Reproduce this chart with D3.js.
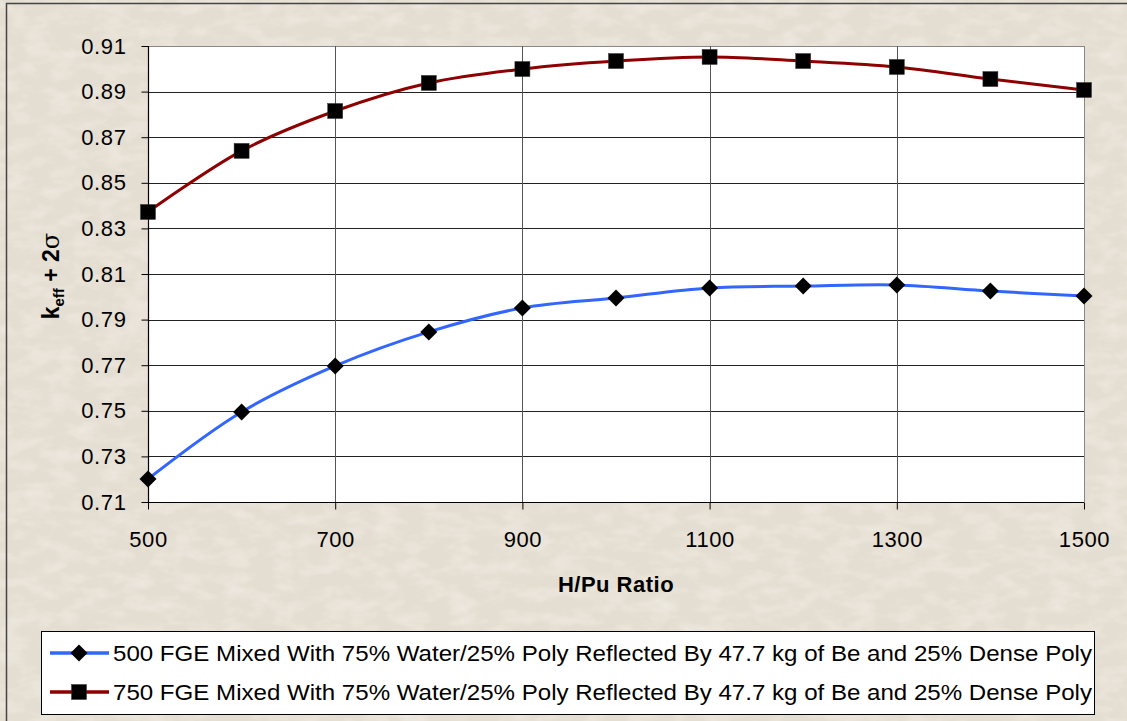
<!DOCTYPE html>
<html><head><meta charset="utf-8">
<script src="https://cdn.jsdelivr.net/npm/d3@7"></script>
<style>body{margin:0;background:#e4ddd1;}svg{display:block;}</style>
</head><body>
<svg id="chart" width="1127" height="721"></svg>
<script>
const hpu = [500, 600, 700, 800, 900, 1000, 1100, 1200, 1300, 1400, 1500];
const k500 = [0.7201, 0.7495, 0.7697, 0.7846, 0.7951, 0.7995, 0.8039, 0.8047, 0.8052, 0.8025, 0.8004];
const k750 = [0.8372, 0.8640, 0.8815, 0.8938, 0.8999, 0.9034, 0.9052, 0.9034, 0.9008, 0.8955, 0.8907];
const xTicks = [500, 700, 900, 1100, 1300, 1500];
const yTicks = [0.71, 0.73, 0.75, 0.77, 0.79, 0.81, 0.83, 0.85, 0.87, 0.89, 0.91];
const seriesNames = [
  "500 FGE Mixed With 75% Water/25% Poly Reflected By 47.7 kg of Be and 25% Dense Poly",
  "750 FGE Mixed With 75% Water/25% Poly Reflected By 47.7 kg of Be and 25% Dense Poly"
];
const series = [
  {name: seriesNames[0], values: k500, color: "#3366ff", marker: "diamond"},
  {name: seriesNames[1], values: k750, color: "#8e0000", marker: "square"}
];

const svg = d3.select("#chart");
const font = "Liberation Sans, Arial, sans-serif";

// background texture
const defs = svg.append("defs");
const f = defs.append("filter").attr("id","paper").attr("x",0).attr("y",0).attr("width","100%").attr("height","100%");
f.append("feTurbulence").attr("type","fractalNoise").attr("baseFrequency","0.04 0.08").attr("numOctaves",3).attr("seed",7).attr("result","n");
f.append("feColorMatrix").attr("in","n").attr("type","matrix")
  .attr("values","0 0 0 0 0.94  0 0 0 0 0.92  0 0 0 0 0.88  0 0 0 -0.9 0.55").attr("result","c");
svg.append("rect").attr("width",1127).attr("height",721).attr("fill","#e4ddd1");
svg.append("rect").attr("width",1127).attr("height",721).attr("filter","url(#paper)");
svg.append("rect").attr("x",6.5).attr("y",3.5).attr("width",1130).attr("height",730)
  .attr("fill","none").attr("stroke","#444").attr("stroke-width",1.5);

const x = d3.scaleLinear().domain([500,1500]).range([148,1084]);
const y = d3.scaleLinear().domain([0.71,0.91]).range([502,46]);

// plot area
svg.append("rect").attr("x",148).attr("y",46).attr("width",936).attr("height",456).attr("fill","#fff");
svg.append("g").selectAll("line").data(yTicks.slice(1)).join("line")
  .attr("x1",148).attr("x2",1084).attr("y1",d=>Math.round(y(d))+0.5).attr("y2",d=>Math.round(y(d))+0.5)
  .attr("stroke",(d,i)=>i===yTicks.length-2?"#888":"#222").attr("stroke-width",1);
svg.append("g").selectAll("line").data(xTicks.slice(1,-1)).join("line")
  .attr("y1",46).attr("y2",502).attr("x1",d=>Math.round(x(d))+0.5).attr("x2",d=>Math.round(x(d))+0.5)
  .attr("stroke","#555").attr("stroke-width",1);
svg.append("line").attr("x1",1084.5).attr("x2",1084.5).attr("y1",46).attr("y2",502).attr("stroke","#888");

// axes
const yAxis = svg.append("g").attr("transform","translate(148.5,0)")
  .call(d3.axisLeft(y).tickValues(yTicks).tickSize(7).tickPadding(15).tickFormat(d3.format(".2f")));
const xAxis = svg.append("g").attr("transform","translate(0,502.5)")
  .call(d3.axisBottom(x).tickValues(xTicks).tickSize(7).tickPadding(22).tickFormat(d3.format("d")));
[yAxis,xAxis].forEach(a=>{
  a.select(".domain").attr("stroke","#000").attr("stroke-width",1.2);
  a.selectAll(".tick line").attr("stroke","#000");
  a.selectAll("text").attr("font-family",font).attr("font-size",22).attr("letter-spacing",0.6).attr("fill","#000");
});
yAxis.selectAll(".domain").attr("d","M-0,46V502");
xAxis.selectAll(".domain").attr("d","M148,0H1084");

// axis titles
svg.append("text").attr("x",616).attr("y",592).attr("text-anchor","middle")
  .attr("font-family",font).attr("font-size",22).attr("font-weight","bold").attr("letter-spacing",0.5).text("H/Pu Ratio");
const yt = svg.append("text").attr("transform","translate(59,276) rotate(-90)").attr("text-anchor","middle")
  .attr("font-family",font).attr("font-size",23).attr("font-weight","bold");
yt.append("tspan").text("k");
yt.append("tspan").attr("font-size",15).attr("dy",5).text("eff");
yt.append("tspan").attr("dy",-5).text(" + 2");
yt.append("tspan").attr("font-family","DejaVu Serif, serif").attr("font-weight","normal").attr("font-size",24).text("σ");

// lines
const line = d3.line().x((d,i)=>x(hpu[i])).y(d=>y(d)).curve(d3.curveCatmullRom.alpha(0.5));
function drawMarker(g, type, cx, cy){
  if(type==="diamond"){
    const h = 8.5;
    g.append("path").attr("d",`M${cx},${cy-h}L${cx+h},${cy}L${cx},${cy+h}L${cx-h},${cy}Z`).attr("fill","#000");
  } else {
    g.append("rect").attr("x",cx-7.5).attr("y",cy-7.5).attr("width",15).attr("height",15).attr("fill","#000")
      .attr("stroke","#333").attr("stroke-width",0.5);
  }
}
series.forEach(s=>{
  svg.append("path").attr("d",line(s.values)).attr("fill","none").attr("stroke",s.color).attr("stroke-width",3);
  const g = svg.append("g");
  s.values.forEach((v,i)=>drawMarker(g,s.marker,x(hpu[i]),y(v)));
});

// legend
svg.append("rect").attr("x",41.5).attr("y",631.5).attr("width",1053).attr("height",83)
  .attr("fill","#fff").attr("stroke","#000").attr("stroke-width",1);
series.forEach((s,i)=>{
  const ly = 653 + i*39;
  svg.append("line").attr("x1",50).attr("x2",109).attr("y1",ly).attr("y2",ly).attr("stroke",s.color).attr("stroke-width",3.5);
  drawMarker(svg.append("g"), s.marker, 79, ly);
  svg.append("text").attr("x",113).attr("y",ly+8).attr("font-family",font).attr("font-size",22)
    .attr("textLength",979).attr("lengthAdjust","spacingAndGlyphs").text(s.name);
});
</script>
</body></html>
